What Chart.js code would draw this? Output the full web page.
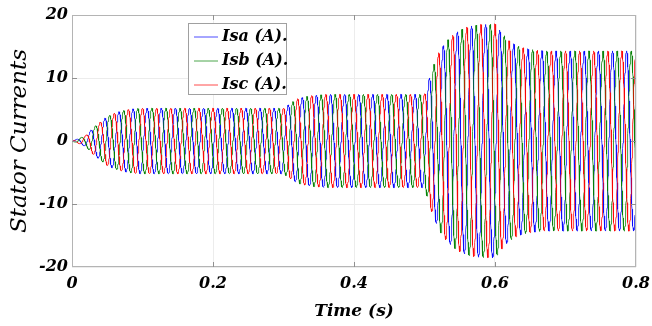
<!DOCTYPE html>
<html>
<head>
<meta charset="utf-8">
<script src="https://cdn.jsdelivr.net/npm/chart.js@4.4.0/dist/chart.umd.min.js"></script>
<style>
  html, body { margin: 0; padding: 0; background: #fff; }
  #wrap { width: 652px; height: 326px; }
</style>
</head>
<body>
<div id="wrap"><canvas id="currents" width="652" height="326"></canvas></div>
<script>
// three stator phases, legend order
const phaseLabels = ['Isa (A).', 'Isb (A).', 'Isc (A).'];
const phaseShiftDeg = [-120, 120, 0];
const phaseColors = ['#0000ff', '#008000', '#ff0000'];

const supplyHz = 50;

// peak current envelope (time in s, amplitude in A)
const envTime = [0, 0.01, 0.02, 0.03, 0.04, 0.05, 0.06, 0.07, 0.08, 0.09, 0.10,
  0.30, 0.31, 0.32, 0.33, 0.34, 0.35, 0.36,
  0.50, 0.51, 0.52, 0.53, 0.54, 0.55, 0.56, 0.57, 0.58, 0.59, 0.60,
  0.61, 0.62, 0.63, 0.64, 0.65, 0.66, 0.67, 0.80];
const envAmp = [0, 0.4, 0.9, 2.1, 3.0, 3.9, 4.4, 4.75, 5.0, 5.15, 5.2,
  5.2, 6.0, 6.7, 7.0, 7.2, 7.3, 7.4,
  7.4, 11.2, 14.0, 15.7, 16.8, 17.6, 18.1, 18.35, 18.5, 18.5, 18.6,
  17.1, 15.9, 15.2, 14.8, 14.55, 14.4, 14.3, 14.3];

const xTicks = [0, 0.2, 0.4, 0.6, 0.8];
const yTicks = [-20, -10, 0, 10, 20];

const FONT = "'DejaVu Serif', serif";

function envelopeAt(t) {
  for (let i = 1; i < envTime.length; i++) {
    if (t <= envTime[i]) {
      const f = (t - envTime[i - 1]) / (envTime[i] - envTime[i - 1]);
      return envAmp[i - 1] + f * (envAmp[i] - envAmp[i - 1]);
    }
  }
  return envAmp[envAmp.length - 1];
}

const step = 0.0002;
const datasets = phaseLabels.map((label, k) => {
  const pts = [];
  const shift = phaseShiftDeg[k] * Math.PI / 180;
  for (let n = 0; n <= 4000; n++) {
    const t = n * step;
    pts.push({ x: t, y: envelopeAt(t) * Math.cos(2 * Math.PI * supplyHz * t + shift) });
  }
  return {
    label: label,
    data: pts,
    borderColor: phaseColors[k],
    borderWidth: 0.75,
    pointRadius: 0,
    fill: false,
    order: 3 - k,
  };
});

// box around the plot plus small inward ticks, matlab style
const frameBox = {
  id: 'frameBox',
  afterDatasetsDraw(chart) {
    const { ctx, chartArea: a, scales } = chart;
    ctx.save();
    ctx.strokeStyle = '#b4b4b4';
    ctx.lineWidth = 1;
    ctx.strokeRect(a.left + 0.5, a.top + 0.5, a.right - a.left - 1, a.bottom - a.top - 1);
    ctx.strokeStyle = '#909090';
    ctx.beginPath();
    xTicks.slice(1, -1).forEach(v => {
      const px = Math.round(scales.x.getPixelForValue(v)) + 0.5;
      ctx.moveTo(px, a.top); ctx.lineTo(px, a.top + 5);
      ctx.moveTo(px, a.bottom); ctx.lineTo(px, a.bottom - 5);
    });
    yTicks.slice(1, -1).forEach(v => {
      const py = Math.round(scales.y.getPixelForValue(v)) + 0.5;
      ctx.moveTo(a.left, py); ctx.lineTo(a.left + 5, py);
      ctx.moveTo(a.right, py); ctx.lineTo(a.right - 5, py);
    });
    ctx.stroke();
    ctx.restore();
  }
};

// legend box inside the plot
const boxLegend = {
  id: 'boxLegend',
  afterDraw(chart) {
    const { ctx, chartArea: a } = chart;
    const x0 = a.left + 116, y0 = a.top + 8, w = 98, h = 71;
    ctx.save();
    ctx.fillStyle = '#fff';
    ctx.fillRect(x0, y0, w, h);
    ctx.strokeStyle = '#a0a0a0';
    ctx.lineWidth = 1;
    ctx.strokeRect(x0 + 0.5, y0 + 0.5, w, h);
    ctx.font = "italic bold 16px " + FONT;
    ctx.textBaseline = 'middle';
    chart.data.datasets.forEach((ds, i) => {
      const y = y0 + 14 + i * 24;
      ctx.globalAlpha = 0.7;
      ctx.strokeStyle = ds.borderColor;
      ctx.beginPath();
      ctx.moveTo(x0 + 6, y);
      ctx.lineTo(x0 + 30, y);
      ctx.stroke();
      ctx.globalAlpha = 1;
      ctx.fillStyle = '#000';
      ctx.fillText(ds.label, x0 + 34, y);
    });
    ctx.restore();
  }
};

new Chart(document.getElementById('currents'), {
  type: 'line',
  data: { datasets: datasets },
  plugins: [frameBox, boxLegend],
  options: {
    responsive: false,
    animation: false,
    parsing: false,
    normalized: true,
    layout: { padding: { top: 15, right: 16, left: 0, bottom: 0 } },
    plugins: { legend: { display: false }, tooltip: { enabled: false } },
    scales: {
      x: {
        type: 'linear',
        min: 0,
        max: 0.8,
        afterBuildTicks: s => { s.ticks = xTicks.map(v => ({ value: v })); },
        afterFit: s => { s.height = 59; s.paddingLeft = 0; s.paddingRight = 0; },
        grid: { color: '#ececec', drawTicks: false },
        border: { display: false },
        ticks: {
          padding: 7,
          color: '#000',
          font: { family: FONT, size: 16, weight: 'bold', style: 'italic' },
          callback: v => String(+v.toFixed(1)),
        },
        title: {
          display: true,
          text: 'Time (s)',
          color: '#000',
          padding: { top: 0, bottom: 4 },
          font: { family: FONT, size: 17, weight: 'bold', style: 'italic' },
        },
      },
      y: {
        min: -20,
        max: 20,
        afterBuildTicks: s => { s.ticks = yTicks.map(v => ({ value: v })); },
        afterFit: s => { s.width = 72; s.paddingTop = 0; s.paddingBottom = 0; },
        grid: { color: '#ececec', drawTicks: false },
        border: { display: false },
        ticks: {
          padding: 4,
          color: '#000',
          font: { family: FONT, size: 16, weight: 'bold', style: 'italic' },
        },
        title: {
          display: true,
          text: 'Stator Currents',
          color: '#000',
          padding: { top: 6, bottom: 0 },
          font: { family: FONT, size: 23, style: 'italic' },
        },
      },
    },
  },
});
</script>
</body>
</html>
